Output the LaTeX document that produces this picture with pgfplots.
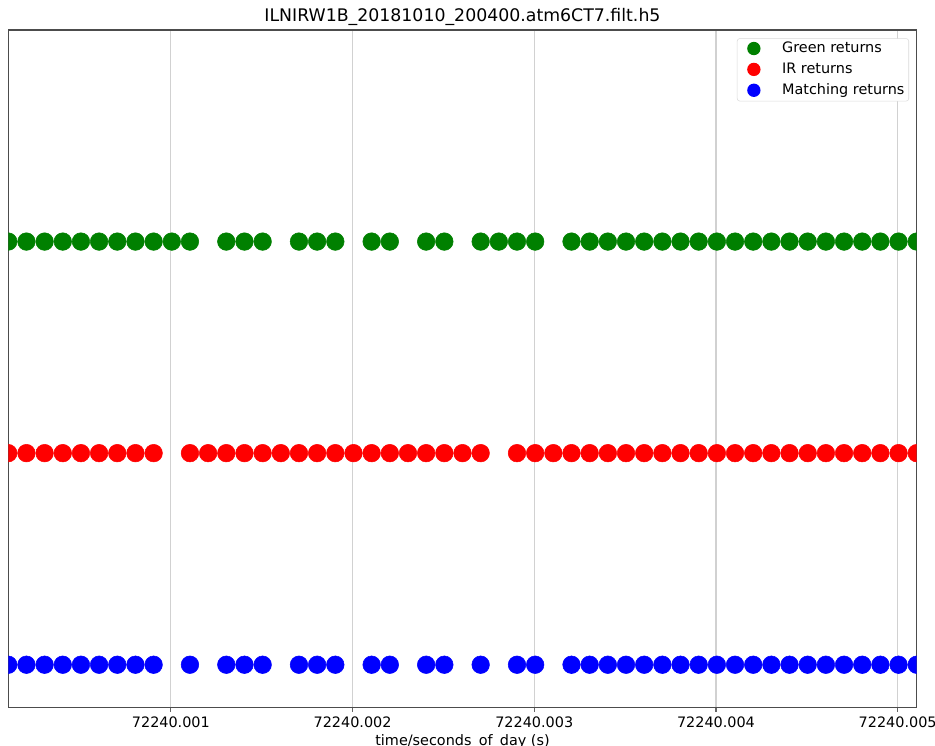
\documentclass[border=0pt]{standalone}
\usepackage{fontspec}
\setmainfont{DejaVu Sans}
\usepackage{pgfplots}
\pgfplotsset{compat=1.18}
\definecolor{mplgreen}{HTML}{008000}
\definecolor{mplred}{HTML}{FF0000}
\definecolor{mplblue}{HTML}{0000FF}
\begin{document}
\begin{tikzpicture}
\begin{axis}[
  name=ax,
  scale only axis, width=681.3pt, height=507.75pt,
  xmin=1.05, xmax=51.05, ymin=0.8, ymax=4.0,
  axis line style={draw=black!70, line width=0.8pt},
  xtick={10,20,30,40,50},
  xticklabels={72240.001,72240.002,72240.003,72240.004,72240.005},
  ytick=\empty,
  xtick pos=bottom,
  tick align=outside, major tick length=3.5pt,
  tick style={black!60, line width=0.8pt},
  xmajorgrids, grid style={black!18, line width=0.9pt},
  ticklabel style={font=\fontsize{10.8}{13}\selectfont},
  xticklabel style={anchor=base, yshift=-12pt},
  title={ILNIRW1B\_20181010\_200400.atm6CT7.filt.h5},
  title style={font=\fontsize{13}{15}\selectfont, at={(axis description cs:0.5,1)}, anchor=base, yshift=0pt},
  xlabel={time/seconds\_of\_day (s)},
  xlabel style={font=\fontsize{10.8}{13}\selectfont, at={(axis description cs:0.5,0)}, anchor=base, yshift=-28.9pt},
  clip marker paths=true,
  legend cell align=left,
  legend style={at={(axis description cs:1,1)}, anchor=north east, xshift=-5.8pt, yshift=-6.2pt,
    draw=black!15, rounded corners=2pt, fill=white,
    font=\fontsize{10.8}{13}\selectfont,
    inner xsep=3.2pt, inner ysep=2.5pt, row sep=5pt, column sep=11.9pt,
    nodes={inner sep=0pt, text height=8pt, text depth=2.3pt}},
  legend image code/.code={\path[draw=none] (0pt,-5pt) rectangle (18.6pt,5pt); \fill[#1, draw=none] (9.3pt,0.5pt) circle (5pt);},
]
\addplot[only marks, mark=*, mark size=6.6pt, color=mplgreen, line width=0.4pt] coordinates {
(1.05,3)(2.05,3)(3.05,3)(4.05,3)(5.05,3)(6.05,3)(7.05,3)(8.05,3)(9.05,3)(10.05,3)(11.05,3)
(13.05,3)(14.05,3)(15.05,3)
(17.05,3)(18.05,3)(19.05,3)
(21.05,3)(22.05,3)
(24.05,3)(25.05,3)
(27.05,3)(28.05,3)(29.05,3)(30.05,3)
(32.05,3)(33.05,3)(34.05,3)(35.05,3)(36.05,3)(37.05,3)(38.05,3)(39.05,3)(40.05,3)(41.05,3)
(42.05,3)(43.05,3)(44.05,3)(45.05,3)(46.05,3)(47.05,3)(48.05,3)(49.05,3)(50.05,3)(51.05,3)
};
\addlegendentry{Green returns}
\addplot[only marks, mark=*, mark size=6.6pt, color=mplred, line width=0.4pt] coordinates {
(1.05,2)(2.05,2)(3.05,2)(4.05,2)(5.05,2)(6.05,2)(7.05,2)(8.05,2)(9.05,2)
(11.05,2)(12.05,2)(13.05,2)(14.05,2)(15.05,2)(16.05,2)(17.05,2)(18.05,2)(19.05,2)(20.05,2)
(21.05,2)(22.05,2)(23.05,2)(24.05,2)(25.05,2)(26.05,2)(27.05,2)
(29.05,2)(30.05,2)(31.05,2)(32.05,2)(33.05,2)(34.05,2)(35.05,2)(36.05,2)(37.05,2)(38.05,2)
(39.05,2)(40.05,2)(41.05,2)(42.05,2)(43.05,2)(44.05,2)(45.05,2)(46.05,2)(47.05,2)(48.05,2)
(49.05,2)(50.05,2)(51.05,2)
};
\addlegendentry{IR returns}
\addplot[only marks, mark=*, mark size=6.6pt, color=mplblue, line width=0.4pt] coordinates {
(1.05,1)(2.05,1)(3.05,1)(4.05,1)(5.05,1)(6.05,1)(7.05,1)(8.05,1)(9.05,1)
(11.05,1)
(13.05,1)(14.05,1)(15.05,1)
(17.05,1)(18.05,1)(19.05,1)
(21.05,1)(22.05,1)
(24.05,1)(25.05,1)
(27.05,1)
(29.05,1)(30.05,1)
(32.05,1)(33.05,1)(34.05,1)(35.05,1)(36.05,1)(37.05,1)(38.05,1)(39.05,1)(40.05,1)(41.05,1)
(42.05,1)(43.05,1)(44.05,1)(45.05,1)(46.05,1)(47.05,1)(48.05,1)(49.05,1)(50.05,1)(51.05,1)
};
\addlegendentry{Matching returns}
\end{axis}
\pgfresetboundingbox
\path ([shift={(-6.2pt,-28.5pt)}]ax.south west) rectangle ([shift={(13.7pt,22.5pt)}]ax.north east);
\end{tikzpicture}
\end{document}
